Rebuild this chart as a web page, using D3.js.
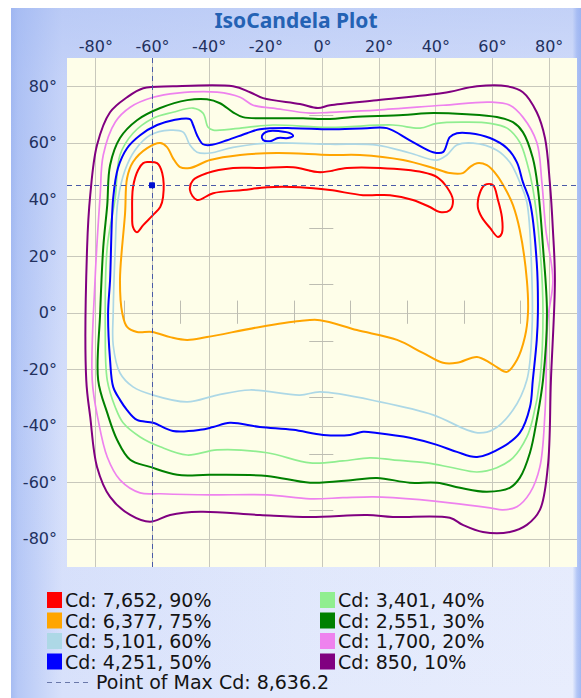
<!DOCTYPE html>
<html>
<head>
<meta charset="utf-8">
<script src="https://cdn.jsdelivr.net/npm/d3@7/dist/d3.min.js"></script>
<style>
  html, body { margin: 0; padding: 0; background: #fff; }
  svg { display: block; }
</style>
</head>
<body>
<div id="chart"></div>
<script>
// iso-candela levels (candela, percent of max)
const levelCd = [7652, 6377, 5101, 4251, 3401, 2551, 1700, 850];
const levelPct = [90, 75, 60, 50, 40, 30, 20, 10];

const xTicks = [-80, -60, -40, -20, 0, 20, 40, 60, 80];
const yTicks = [-80, -60, -40, -20, 0, 20, 40, 60, 80];
const minorTicks = [-70, -50, -30, -10, 10, 30, 50, 70];

const maxPoint = [-60, 45];
const maxCd = 8636.2;

// contour rings, [horizontal deg, vertical deg]
const ring90 = [
  [[-61.7,53.2],[-58.2,52.8],[-56.4,49.3],[-56.1,40.8],[-57.1,37.3],[-59.6,34.5],[-63.1,30.9],[-65.3,28.4],[-66.7,30.2],[-67.0,35.2],[-66.7,44.3],[-64.9,50.4],[-63.1,52.8]],
  [[-46.6,43.3],[-45.5,46.8],[-40.6,49.3],[-31.4,51.1],[-21.9,51.1],[-10.2,51.4],[-0.7,49.6],[8.8,51.1],[20.5,51.1],[35.6,49.6],[40.6,47.9],[44.1,44.3],[46.2,39.8],[45.1,36.2],[41.6,35.5],[38.1,37.3],[32.1,39.8],[24.0,41.5],[14.5,41.5],[2.8,43.3],[-7.8,44.3],[-19.4,44.3],[-27.9,43.3],[-38.4,42.2],[-44.1,39.8]],
  [[57.5,45.1],[60.3,45.1],[62.1,39.8],[63.5,33.7],[63.5,28.1],[62.1,26.7],[59.3,29.9],[56.4,33.7],[55.0,37.3],[55.7,42.2]]
];
const ring75 = [
  [[-71.3,11.5],[-69.5,35.2],[-68.8,47.5],[-66.7,53.2],[-61.7,58.1],[-57.1,59.9],[-54.7,58.5],[-52.6,54.6],[-50.1,51.4],[-46.6,51.1],[-39.5,53.9],[-28.9,55.7],[-15.9,56.4],[2.8,55.7],[13.4,55.7],[28.6,53.9],[39.2,51.1],[45.1,49.3],[49.7,49.3],[52.2,51.4],[54.7,52.8],[58.2,52.1],[61.7,48.6],[65.3,42.6],[67.4,38.0],[69.8,29.2],[72.3,11.5],[72.7,-0.2],[71.6,-8.7],[68.8,-16.8],[65.3,-21.0],[61.7,-19.3],[59.3,-17.8],[54.7,-15.7],[47.6,-17.8],[42.7,-17.8],[35.6,-14.3],[26.5,-9.7],[12.3,-6.2],[-0.7,-2.7],[-7.8,-3.0],[-21.9,-5.1],[-40.6,-8.7],[-47.6,-9.7],[-53.6,-8.7],[-60.0,-6.9],[-65.3,-6.9],[-68.8,-5.1],[-70.5,-0.2]]
];
const ring60 = [
  [[-73.7,-0.2],[-73.0,22.1],[-72.0,39.8],[-69.5,50.4],[-66.0,57.4],[-60.7,62.7],[-53.6,64.5],[-49.0,63.8],[-46.6,59.2],[-44.1,56.7],[-39.5,56.4],[-31.4,58.4],[-19.4,59.9],[2.8,59.5],[19.4,59.2],[31.0,56.4],[40.6,53.9],[44.1,55.7],[47.6,59.2],[53.3,59.9],[61.7,57.4],[66.3,53.1],[69.8,46.1],[72.3,39.0],[74.1,11.5],[74.1,-6.2],[72.3,-23.9],[67.4,-34.5],[60.3,-41.5],[55.7,-42.6],[51.1,-41.5],[39.2,-36.2],[20.5,-31.6],[-0.7,-28.1],[-7.8,-29.2],[-25.4,-27.4],[-37.0,-29.2],[-47.6,-31.6],[-59.6,-29.2],[-66.7,-26.3],[-71.3,-21.4],[-73.7,-11.5]]
];
const ring50 = [
  [[-75.5,-0.2],[-74.8,11.5],[-73.7,40.5],[-72.0,51.1],[-68.8,58.1],[-64.2,62.7],[-58.2,66.3],[-52.6,68.0],[-46.6,68.4],[-45.5,66.3],[-44.1,62.7],[-42.0,59.5],[-39.5,59.2],[-33.5,60.9],[-26.5,63.4],[-21.9,64.8],[-10.2,65.2],[2.8,64.8],[15.9,65.2],[22.9,65.2],[31.0,60.9],[39.2,56.7],[42.7,56.7],[45.1,62.0],[47.6,63.4],[52.2,63.4],[59.3,61.7],[65.3,58.1],[68.8,53.1],[70.9,46.1],[73.4,39.0],[75.8,17.5],[76.2,-0.2],[75.8,-9.7],[74.4,-23.9],[73.4,-33.4],[69.8,-42.6],[63.8,-47.5],[54.7,-51.1],[47.6,-49.3],[40.6,-46.8],[31.0,-44.3],[19.4,-42.6],[14.5,-42.2],[9.9,-43.3],[0.4,-43.3],[-10.2,-41.5],[-21.9,-40.5],[-32.5,-39.0],[-38.4,-40.5],[-43.0,-41.5],[-52.6,-41.9],[-59.6,-39.0],[-65.3,-38.0],[-68.8,-34.5],[-71.3,-30.9],[-73.7,-26.3],[-74.8,-16.8]],
  [[-21.2,62.4],[-19.0,64.1],[-14.8,64.1],[-11.3,63.4],[-10.2,62.4],[-12.0,61.7],[-15.5,61.7],[-18.3,60.6],[-20.8,61.0]]
];
const ring40 = [
  [[-76.5,-6.2],[-75.8,23.1],[-73.0,40.4],[-71.3,55.7],[-66.7,63.4],[-59.6,68.7],[-52.6,70.8],[-45.5,72.3],[-42.0,70.5],[-40.2,65.5],[-38.4,64.5],[-26.5,65.5],[-17.3,66.3],[2.8,65.5],[25.0,66.3],[34.6,65.2],[40.6,66.9],[51.1,67.3],[59.3,66.9],[65.3,65.2],[69.8,60.2],[72.3,53.1],[74.4,44.0],[76.9,23.1],[78.0,-0.2],[76.9,-23.9],[74.4,-37.5],[72.3,-44.0],[67.4,-51.4],[61.7,-54.9],[54.7,-56.4],[46.2,-54.9],[37.0,-53.2],[25.0,-52.1],[16.9,-51.4],[7.4,-52.5],[-4.2,-53.2],[-19.4,-49.6],[-37.0,-48.6],[-47.6,-50.4],[-57.1,-47.5],[-64.2,-44.0],[-70.2,-39.0],[-73.0,-33.4],[-75.8,-23.9]]
];
const ring30 = [
  [[-78.3,-0.2],[-77.2,23.1],[-75.8,38.0],[-74.8,52.1],[-71.3,61.7],[-65.3,68.0],[-57.1,72.3],[-47.6,75.1],[-40.6,75.4],[-36.0,74.0],[-31.4,70.8],[-27.9,69.1],[-15.9,68.7],[-6.7,68.7],[2.8,68.4],[10.9,69.1],[28.6,69.8],[37.0,70.5],[51.1,70.1],[61.7,69.1],[67.4,67.3],[70.9,63.8],[74.4,54.6],[76.2,44.0],[78.0,23.1],[79.4,-0.2],[78.0,-23.9],[75.8,-38.0],[73.4,-49.6],[69.8,-58.5],[66.3,-62.0],[58.2,-63.4],[48.7,-62.0],[40.6,-60.2],[31.0,-60.2],[19.4,-58.5],[10.9,-59.2],[-4.2,-60.2],[-19.4,-57.8],[-39.5,-57.4],[-51.1,-57.4],[-60.7,-54.6],[-67.7,-52.1],[-72.3,-45.1],[-75.8,-35.5],[-79.0,-23.9]]
];
const ring20 = [
  [[-81.1,-23.9],[-80.1,11.5],[-78.3,41.5],[-77.2,55.7],[-73.0,67.3],[-67.7,72.6],[-59.6,76.1],[-51.1,77.6],[-37.0,77.9],[-28.9,76.1],[-24.3,73.3],[-17.3,72.3],[-4.2,70.5],[2.8,70.8],[19.4,71.6],[42.7,73.3],[59.3,74.4],[66.3,73.3],[70.9,69.1],[75.8,60.2],[77.6,46.1],[79.0,29.2],[81.5,11.5],[79.7,-2.7],[78.7,-35.5],[76.9,-54.6],[73.4,-63.8],[68.8,-68.7],[63.8,-69.8],[59.3,-69.1],[45.1,-67.3],[25.0,-65.5],[18.0,-65.2],[7.4,-65.5],[-4.2,-65.9],[-19.4,-64.5],[-39.5,-64.5],[-57.1,-64.1],[-64.2,-63.8],[-71.3,-59.2],[-75.8,-51.1],[-79.0,-38.0]]
];
const ring10 = [
  [[-83.2,-23.9],[-82.9,23.1],[-81.8,41.5],[-79.4,59.2],[-74.8,70.8],[-68.8,76.1],[-63.1,79.3],[-52.6,80.0],[-31.4,80.0],[-25.4,77.9],[-20.8,75.8],[-7.8,73.7],[-1.4,72.3],[2.8,73.3],[19.4,75.1],[42.7,77.6],[54.7,80.0],[65.3,80.0],[70.9,77.9],[75.8,70.8],[78.7,61.7],[80.4,46.1],[81.5,29.2],[82.2,11.5],[80.8,-23.9],[79.7,-54.6],[76.9,-69.8],[72.3,-75.1],[66.3,-77.6],[56.8,-77.6],[49.7,-75.1],[45.1,-72.6],[25.0,-72.3],[15.9,-71.6],[-4.2,-72.3],[-21.9,-71.6],[-43.0,-70.5],[-53.6,-71.6],[-60.7,-74.0],[-67.7,-71.6],[-74.8,-65.2],[-79.4,-54.6],[-81.8,-36.9]]
];
const contours = [ring90, ring75, ring60, ring50, ring40, ring30, ring20, ring10];

const colors = ['#ff0000', '#ffa500', '#add8e6', '#0000ff', '#90ee90', '#008000', '#ee82ee', '#800080'];

const W = 581, H = 698;
const plot = { left: 67, top: 58, right: 577, bottom: 567 };

const svg = d3.select('#chart').append('svg')
  .attr('width', W)
  .attr('height', H);

const defs = svg.append('defs');
const gh = defs.append('linearGradient').attr('id', 'panelH');
[[0, '#a6bcf2'], [0.012, '#b6c8f6'], [0.09, '#d8e1fb'], [0.5, '#e2e9fc'], [0.985, '#e8edfd'], [0.993, '#b4c7f6'], [1, '#a3b9f2']]
  .forEach(s => gh.append('stop').attr('offset', s[0]).attr('stop-color', s[1]));
const gv = defs.append('linearGradient').attr('id', 'panelV')
  .attr('x1', 0).attr('y1', 0).attr('x2', 0).attr('y2', 1);
[[0, 'rgba(150,175,240,0.45)'], [0.1, 'rgba(150,175,240,0.3)'], [0.6, 'rgba(150,175,240,0.05)'], [1, 'rgba(150,175,240,0)']]
  .forEach(s => gv.append('stop').attr('offset', s[0]).attr('stop-color', s[1]));
defs.append('clipPath').attr('id', 'plotClip')
  .append('rect')
  .attr('x', plot.left).attr('y', plot.top)
  .attr('width', plot.right - plot.left).attr('height', plot.bottom - plot.top);

svg.append('rect').attr('x', 11).attr('y', 8).attr('width', W - 11).attr('height', H - 8).attr('fill', 'url(#panelH)');
svg.append('rect').attr('x', 11).attr('y', 8).attr('width', W - 11).attr('height', H - 8).attr('fill', 'url(#panelV)');

const x = d3.scaleLinear().domain([-90, 90]).range([plot.left, plot.right]);
const y = d3.scaleLinear().domain([-90, 90]).range([plot.bottom, plot.top]);

svg.append('rect')
  .attr('x', plot.left).attr('y', plot.top)
  .attr('width', plot.right - plot.left).attr('height', plot.bottom - plot.top)
  .attr('fill', '#fefee9');

// grid
const grid = svg.append('g').attr('stroke', '#c8c8bc').attr('stroke-width', 1);
grid.selectAll('.vg').data(xTicks).enter().append('line')
  .attr('x1', d => Math.round(x(d)) + 0.5).attr('x2', d => Math.round(x(d)) + 0.5)
  .attr('y1', plot.top).attr('y2', plot.bottom);
grid.selectAll('.hg').data(yTicks).enter().append('line')
  .attr('y1', d => Math.round(y(d)) + 0.5).attr('y2', d => Math.round(y(d)) + 0.5)
  .attr('x1', plot.left).attr('x2', plot.right);

// small ticks on the centre axes
const minor = svg.append('g').attr('stroke', '#bdbdb2').attr('stroke-width', 1);
minor.selectAll('.mx').data(minorTicks).enter().append('line')
  .attr('x1', d => Math.round(x(d)) + 0.5).attr('x2', d => Math.round(x(d)) + 0.5)
  .attr('y1', y(4.2)).attr('y2', y(-4));
minor.selectAll('.my').data(minorTicks).enter().append('line')
  .attr('y1', d => Math.round(y(d)) + 0.5).attr('y2', d => Math.round(y(d)) + 0.5)
  .attr('x1', x(-4.5)).attr('x2', x(4));

const line = d3.line()
  .x(d => x(d[0]))
  .y(d => y(d[1]))
  .curve(d3.curveCatmullRomClosed.alpha(0.5));

const lines = svg.append('g').attr('clip-path', 'url(#plotClip)');
// outermost first so the inner ones sit on top
d3.range(contours.length - 1, -1, -1).forEach(i => {
  lines.selectAll(null)
    .data(contours[i])
    .enter()
    .append('path')
    .attr('d', line)
    .attr('fill', 'none')
    .attr('stroke', colors[i])
    .attr('stroke-width', (i === 2 || i === 4 || i === 6) ? 1.7 : 2)
    .attr('stroke-linejoin', 'round');
});

// point of max
svg.append('line')
  .attr('x1', plot.left).attr('x2', plot.right)
  .attr('y1', Math.round(y(maxPoint[1])) + 0.5).attr('y2', Math.round(y(maxPoint[1])) + 0.5)
  .attr('stroke', '#4a5aa8').attr('stroke-width', 1).attr('stroke-dasharray', '5,4');
svg.append('line')
  .attr('y1', plot.top).attr('y2', plot.bottom)
  .attr('x1', Math.round(x(maxPoint[0])) + 0.5).attr('x2', Math.round(x(maxPoint[0])) + 0.5)
  .attr('stroke', '#4a5aa8').attr('stroke-width', 1).attr('stroke-dasharray', '5,4');
svg.append('rect')
  .attr('x', x(maxPoint[0]) - 3).attr('y', y(maxPoint[1]) - 3)
  .attr('width', 6).attr('height', 6).attr('rx', 1)
  .attr('fill', '#0010d0');

// axes
const topAxis = svg.append('g')
  .attr('transform', `translate(0,${plot.top})`)
  .call(d3.axisTop(x).tickValues(xTicks).tickFormat(d => d + '°').tickSize(0).tickPadding(6));
const leftAxis = svg.append('g')
  .attr('transform', `translate(${plot.left},0)`)
  .call(d3.axisLeft(y).tickValues(yTicks).tickFormat(d => d + '°').tickSize(0).tickPadding(10));
[topAxis, leftAxis].forEach(a => {
  a.select('.domain').remove();
  a.selectAll('text')
    .attr('fill', '#22305e')
    .attr('font-family', 'DejaVu Sans, sans-serif')
    .attr('font-size', '16px');
});

svg.append('text')
  .attr('x', 296).attr('y', 28)
  .attr('text-anchor', 'middle')
  .attr('font-family', 'Noto Sans, sans-serif')
  .attr('font-weight', 'bold')
  .attr('font-size', '21px')
  .attr('fill', '#2462b4')
  .text('IsoCandela Plot');

// legend
const fmt = d3.format(',');
const rowY = i => 600 + i * 20.5;
const legend = svg.append('g').attr('font-family', 'DejaVu Sans, sans-serif').attr('font-size', '19px');
levelCd.forEach((cd, i) => {
  const col = i < 4 ? 0 : 1;
  const row = i % 4;
  const sx = col === 0 ? 47 : 320;
  legend.append('rect')
    .attr('x', sx).attr('y', rowY(row) - 8)
    .attr('width', 15).attr('height', 16)
    .attr('fill', colors[i]);
  legend.append('text')
    .attr('x', sx + 18).attr('y', rowY(row) + 7)
    .attr('fill', '#141414')
    .text(`Cd: ${fmt(cd)}, ${levelPct[i]}%`);
});
legend.append('line')
  .attr('x1', 47).attr('x2', 90)
  .attr('y1', rowY(4) + 0.5).attr('y2', rowY(4) + 0.5)
  .attr('stroke', '#6a78aa').attr('stroke-width', 1).attr('stroke-dasharray', '5,4');
legend.append('text')
  .attr('x', 96).attr('y', rowY(4) + 7)
  .attr('fill', '#141414')
  .text(`Point of Max Cd: ${d3.format(',.1f')(maxCd)}`);
</script>
</body>
</html>
